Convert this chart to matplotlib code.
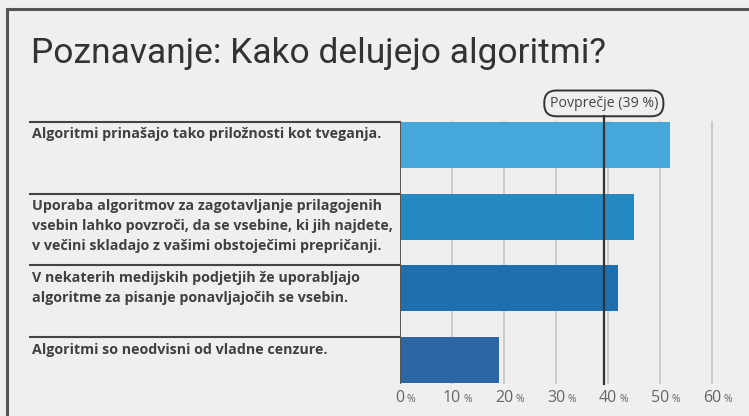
import matplotlib.pyplot as plt
from matplotlib.transforms import blended_transform_factory

plt.rcParams['font.family'] = ['Open Sans', 'DejaVu Sans']

title = "Poznavanje: Kako delujejo algoritmi?"
categories = [
    "Algoritmi prinašajo tako priložnosti kot tveganja.",
    "Uporaba algoritmov za zagotavljanje prilagojenih\n"
    "vsebin lahko povzroči, da se vsebine, ki jih najdete,\n"
    "v večini skladajo z vašimi obstoječimi prepričanji.",
    "V nekaterih medijskih podjetjih že uporabljajo\n"
    "algoritme za pisanje ponavljajočih se vsebin.",
    "Algoritmi so neodvisni od vladne cenzure.",
]
values = [52, 45, 42, 19]
bar_colors = ['#46a8da', '#2589c4', '#1f6eae', '#2c67a3']
average = 39.2
average_label = "Povprečje (39 %)"
ticks = [0, 10, 20, 30, 40, 50, 60]

W, H = 749, 416
fig = plt.figure(figsize=(W / 100, H / 100), dpi=100)
fig.patch.set_facecolor('#efefef')

# card border (top and left edges)
fig.add_artist(plt.Line2D([7 / W, 1], [1 - 9 / H, 1 - 9 / H], color='#555555', lw=2.2))
fig.add_artist(plt.Line2D([7 / W, 7 / W], [0, 1 - 9 / H], color='#555555', lw=2.2))

fig.text(31 / W, 1 - 54 / H, title, fontsize=25.5, color='#333333',
         family=['Roboto', 'DejaVu Sans'], va='center', ha='left')

# axes: 0 % at x=400 px, 60 % at x=712 px
px_per_pct = (712 - 400) / 60
xmax = 63
ax_left, ax_right = 400, 400 + xmax * px_per_pct
ax_top, ax_bottom = 121, 384
ax = fig.add_axes([ax_left / W, 1 - ax_bottom / H, (ax_right - ax_left) / W, (ax_bottom - ax_top) / H])
ax.set_facecolor('none')
ax.set_xlim(0, xmax)
ax.set_ylim(3.33, -0.33)
for s in ax.spines.values():
    s.set_visible(False)
ax.set_xticks([])
ax.set_yticks([])

for t in ticks[1:]:
    ax.axvline(t, color='#cccccc', lw=1.4, zorder=0)
ax.axvline(0, color='#555555', lw=1.4, zorder=3)

bh = 0.642
pos = list(range(len(values)))
ax.barh(pos, values, height=bh, color=bar_colors, zorder=2)

# separators + labels on the left
tr = blended_transform_factory(fig.transFigure, ax.transData)
for i, lab in enumerate(categories):
    y = i - bh / 2
    ax.plot([30 / W, 400 / W], [y, y], transform=tr, color='#444444', lw=1.5, clip_on=False)
    ax.text(32 / W, y + 0.075, lab, transform=tr, fontsize=10.3, fontweight='bold',
            color='#404040', va='top', ha='left', linespacing=1.55)

# average line with label
ax.plot([average, average], [3.33, -0.40], color='#333333', lw=1.6, clip_on=False, zorder=4)
ax.text(average, -0.575, average_label, fontsize=10.2, color='#444444', ha='center', va='center',
        bbox=dict(boxstyle='round,pad=0.38,rounding_size=0.85', fc='#efefef', ec='#333333', lw=1.4))

# tick labels: number centred on tick, small % after it
for t in ticks:
    nd = len(str(t))
    ax.annotate(str(t), (t, 3.33), xytext=(0, -14), textcoords='offset pixels',
                fontsize=11.5, color='#666666', ha='center', va='center', annotation_clip=False)
    ax.annotate('%', (t, 3.33), xytext=(nd * 4.6 + 2, -15), textcoords='offset pixels',
                fontsize=7.5, color='#666666', ha='left', va='center', annotation_clip=False)

fig.savefig('out.png', dpi=100, facecolor=fig.get_facecolor())
